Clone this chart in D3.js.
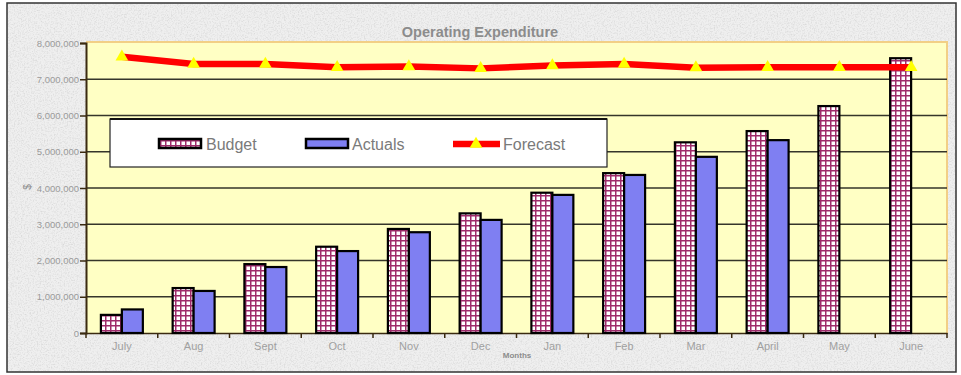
<!DOCTYPE html>
<html><head><meta charset="utf-8">
<script src="https://cdn.jsdelivr.net/npm/d3@7"></script>
<style>html,body{margin:0;padding:0;background:#fff;}svg{display:block;font-family:"Liberation Sans",Arial,sans-serif;}</style>
</head><body>
<svg id="chart" width="961" height="375"></svg>
<script>
const months = ["July","Aug","Sept","Oct","Nov","Dec","Jan","Feb","Mar","April","May","June"];
const budget = [500000,1240000,1900000,2380000,2870000,3300000,3870000,4410000,5260000,5570000,6260000,7580000];
const actuals = [650000,1160000,1820000,2260000,2780000,3120000,3810000,4360000,4860000,5320000,null,null];
const forecast = [7620000,7420000,7420000,7330000,7350000,7300000,7380000,7420000,7320000,7330000,7330000,7330000];
const yTicks = [0,1000000,2000000,3000000,4000000,5000000,6000000,7000000,8000000];
const title = "Operating Expenditure";
const xTitle = "Months";
const yTitle = "$";

const svg = d3.select("#chart");
const defs = svg.append("defs");
// granite-like texture
const f = defs.append("filter").attr("id","granite").attr("x",0).attr("y",0).attr("width","100%").attr("height","100%");
f.append("feTurbulence").attr("type","fractalNoise").attr("baseFrequency","0.7").attr("numOctaves",3).attr("seed",4).attr("result","n");
f.append("feColorMatrix").attr("in","n").attr("type","matrix")
 .attr("values","0 0 0 0 0.62  0 0 0 0 0.62  0 0 0 0 0.62  -1.5 0 0 0 0.85").attr("result","c");
f.append("feComposite").attr("in","c").attr("in2","SourceGraphic").attr("operator","in");

const pat = defs.append("pattern").attr("id","grid").attr("patternUnits","userSpaceOnUse").attr("width",5).attr("height",5);
pat.append("rect").attr("width",5).attr("height",5).attr("fill","#ffffff");
pat.append("rect").attr("width",5).attr("height",1.5).attr("fill","#9e2b6a");
pat.append("rect").attr("width",1.5).attr("height",5).attr("fill","#9e2b6a");

// background
svg.append("rect").attr("x",7).attr("y",3).attr("width",949).attr("height",369).attr("fill","#efefef");
svg.append("rect").attr("x",7).attr("y",3).attr("width",949).attr("height",369).attr("fill","#efefef").attr("filter","url(#granite)");
svg.append("rect").attr("x",7).attr("y",3).attr("width",949).attr("height",369).attr("fill","none").attr("stroke","#333").attr("stroke-width",1.5);

const L = 86, R = 947, T = 43, B = 333;
const x = d3.scaleBand().domain(months).range([L,R]).paddingInner(0).paddingOuter(0);
const xs = d3.scaleBand().domain(["Budget","Actuals"]).range([0,x.bandwidth()]).paddingInner(0).paddingOuter(0.71);
const y = d3.scaleLinear().domain([0,8000000]).range([B,T]);

// plot area
svg.append("rect").attr("x",L).attr("y",T-1).attr("width",R-L).attr("height",B-T+1).attr("fill","#ffffc4");
svg.append("path").attr("d",`M${L},${T-1}H${R}V${B}`).attr("fill","none").attr("stroke","#f2cf86").attr("stroke-width",2);

// gridlines
svg.append("g").selectAll("line").data(yTicks.filter(d=>d>0 && d<8000000)).join("line")
 .attr("x1",L).attr("x2",R).attr("y1",d=>y(d)).attr("y2",d=>y(d)).attr("stroke","#35352a").attr("stroke-width",1.4);

// y axis
const yAxis = svg.append("g").attr("transform",`translate(${L},0)`)
 .call(d3.axisLeft(y).tickValues(yTicks).tickSize(6).tickFormat(d3.format(",")));
yAxis.select(".domain").attr("stroke","#3a2a10").attr("stroke-width",2);
yAxis.selectAll(".tick line").attr("stroke","#3a2a10").attr("stroke-width",1.5);
yAxis.selectAll("text").attr("fill","#9a9a9a").attr("font-size",9.5).attr("font-family","Liberation Sans, Arial").attr("x",-7);

// x axis
const xAxis = svg.append("g").attr("transform",`translate(0,${B})`)
 .call(d3.axisBottom(x).tickSize(0).tickPadding(9));
xAxis.select(".domain").attr("stroke","#3a2a10").attr("stroke-width",1.5);
xAxis.selectAll("text").attr("fill","#a0a0a0").attr("font-size",11).attr("font-family","Liberation Sans, Arial");
svg.append("g").selectAll("line").data(months.concat(["end"])).join("line")
 .attr("x1",(d,i)=>L+i*x.step()).attr("x2",(d,i)=>L+i*x.step()).attr("y1",B).attr("y2",B+5)
 .attr("stroke","#3a2a10").attr("stroke-width",1.5);

// bars
const g = svg.append("g");
g.selectAll("rect.b").data(months).join("rect").attr("class","b")
 .attr("x",d=>x(d)+xs("Budget")).attr("width",xs.bandwidth())
 .attr("y",(d,i)=>y(budget[i])).attr("height",(d,i)=>B-y(budget[i]))
 .attr("fill","url(#grid)").attr("stroke","#000").attr("stroke-width",2.2);
g.selectAll("rect.a").data(months.filter((d,i)=>actuals[i]!=null)).join("rect").attr("class","a")
 .attr("x",d=>x(d)+xs("Actuals")).attr("width",xs.bandwidth())
 .attr("y",d=>y(actuals[months.indexOf(d)])).attr("height",d=>B-y(actuals[months.indexOf(d)]))
 .attr("fill","#7f7ff2").attr("stroke","#000").attr("stroke-width",2.2);

// forecast line
const line = d3.line().x((d,i)=>x(months[i])+x.bandwidth()/2).y(d=>y(d)).curve(d3.curveLinear);
svg.append("path").datum(forecast).attr("d",line).attr("fill","none").attr("stroke","#ff0000").attr("stroke-width",6.5).attr("stroke-linejoin","round");
const tri = d3.symbol().type(d3.symbolTriangle).size(70);
svg.append("g").selectAll("path").data(forecast).join("path")
 .attr("d",tri).attr("transform",(d,i)=>`translate(${x(months[i])+x.bandwidth()/2},${y(d)})`)
 .attr("fill","#ffff00");

// title
svg.append("text").attr("x",480).attr("y",37).attr("text-anchor","middle").attr("font-size",14.5).attr("font-weight","bold")
 .attr("fill","#8c8c8c").text(title);
svg.append("text").attr("x",517).attr("y",358).attr("text-anchor","middle").attr("font-size",8).attr("font-weight","bold")
 .attr("fill","#8c8c8c").text(xTitle);
svg.append("text").attr("transform","translate(31,187) rotate(-90)").attr("text-anchor","middle").attr("font-size",10)
 .attr("fill","#8c8c8c").text(yTitle);

// legend
const lg = svg.append("g");
lg.append("rect").attr("x",110).attr("y",119).attr("width",497).attr("height",48).attr("fill","#fff").attr("stroke","#222").attr("stroke-width",1.2);
lg.append("line").attr("x1",110).attr("x2",607).attr("y1",119).attr("y2",119).attr("stroke","#111").attr("stroke-width",2);
const ly = 144;
lg.append("rect").attr("x",159).attr("y",ly-5).attr("width",42).attr("height",9).attr("fill","url(#grid)").attr("stroke","#000").attr("stroke-width",2.5);
lg.append("text").attr("x",206).attr("y",ly+6).attr("font-size",16).attr("fill","#7a7a7a").text("Budget");
lg.append("rect").attr("x",306).attr("y",ly-5).attr("width",42).attr("height",9).attr("fill","#7f7ff2").attr("stroke","#000").attr("stroke-width",2.5);
lg.append("text").attr("x",352).attr("y",ly+6).attr("font-size",16).attr("fill","#7a7a7a").text("Actuals");
lg.append("line").attr("x1",453).attr("x2",500).attr("y1",ly).attr("y2",ly).attr("stroke","#ff0000").attr("stroke-width",6.5);
lg.append("path").attr("d",tri).attr("transform",`translate(476,${ly})`).attr("fill","#ffff00");
lg.append("text").attr("x",503).attr("y",ly+6).attr("font-size",16).attr("fill","#7a7a7a").text("Forecast");
</script>
</body></html>
